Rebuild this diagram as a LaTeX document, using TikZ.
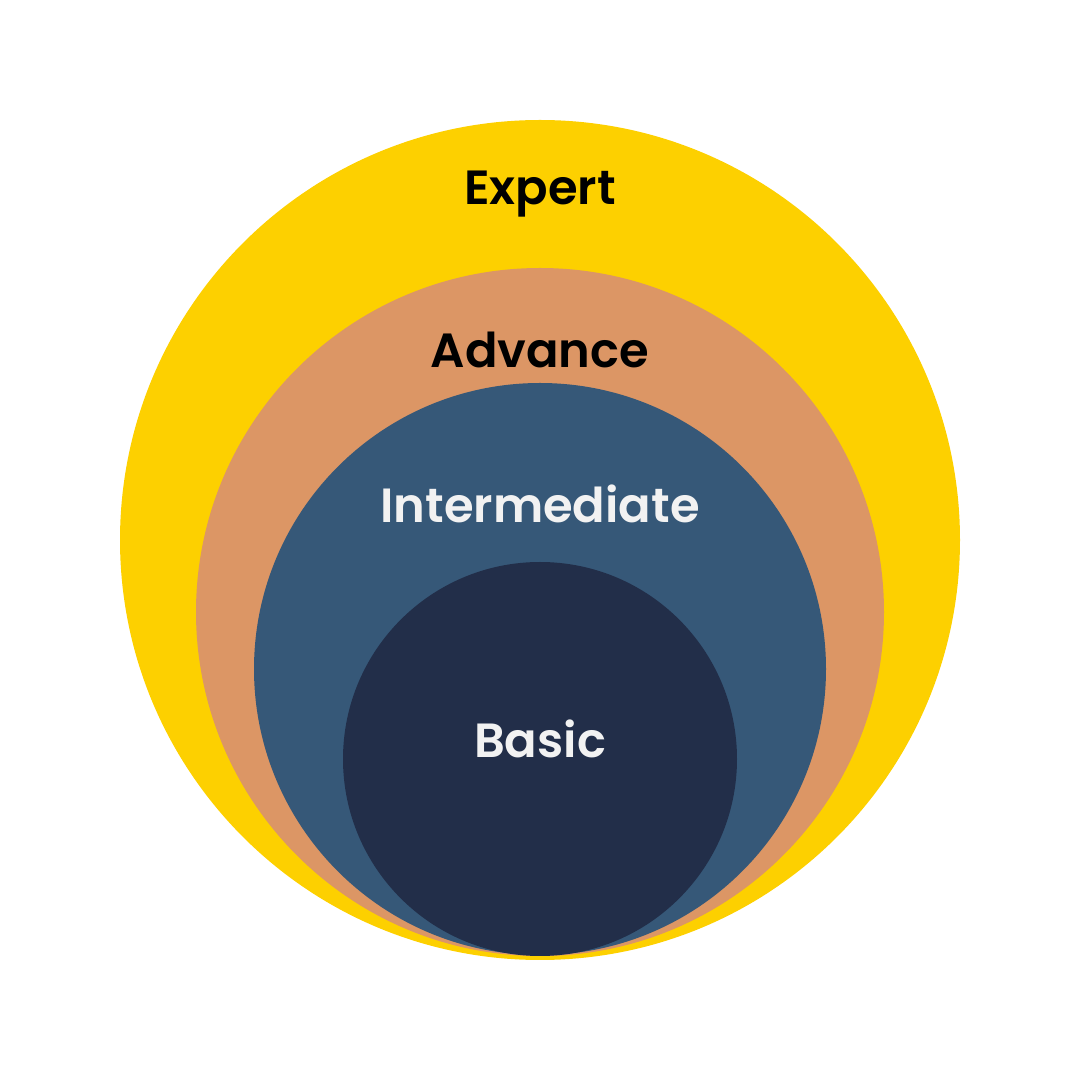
\documentclass[tikz,border=0pt]{standalone}
\usepackage{fontspec}
\setmainfont{Poppins}[BoldFont={Poppins SemiBold}]
\usepackage{xcolor}
\usepackage{tikz}

\definecolor{expertyellow}{HTML}{FDD000}
\definecolor{advanceorange}{HTML}{DC9665}
\definecolor{intermblue}{HTML}{365878}
\definecolor{basicnavy}{HTML}{222E49}
\definecolor{labelwhite}{HTML}{F2F2F2}

\begin{document}
\begin{tikzpicture}[
    x=1pt, y=1pt,
    level/.style={
        circle,
        inner sep=0pt,
        draw=none
    },
    levellabel/.style={
        anchor=base,
        inner sep=0pt,
        font=\fontsize{48}{58}\selectfont\bfseries
    }
]

\useasboundingbox (0,0) rectangle (1080,1080);

\node[level, fill=expertyellow, minimum size=840pt] (expert) at (540,540) {};
\node[level, fill=advanceorange, minimum size=688pt] (advance) at (540,468) {};
\node[level, fill=intermblue, minimum size=572pt] (intermediate) at (540,411) {};
\node[level, fill=basicnavy, minimum size=394pt] (basic) at (540,321) {};

\node[levellabel, text=black] (expertlabel) at (540,875) {Expert};
\node[levellabel, text=black] (advancelabel) at (540,712) {Advance};
\node[levellabel, text=labelwhite] (intermediatelabel) at (540,557) {Intermediate};
\node[levellabel, text=labelwhite] (basiclabel) at (540,322) {Basic};

\end{tikzpicture}
\end{document}
